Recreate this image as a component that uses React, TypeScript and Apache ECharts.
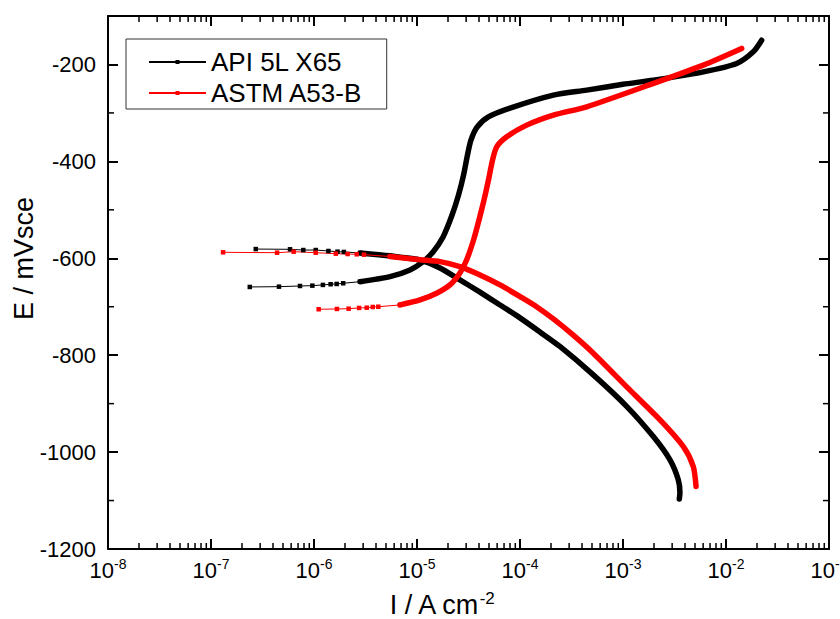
import React, { useEffect, useRef } from 'react';
import * as echarts from 'echarts';

const FONT = '"Liberation Sans", Arial, Helvetica, sans-serif';

// ---- API 5L X65 (black) ----
const apiCathTailI = [2.72e-7, 5.85e-7, 7.87e-7, 1.04e-6, 1.38e-6, 1.69e-6, 1.95e-6];
const apiCathTailE = [-581, -581.5, -583, -583, -585, -586.4, -587];
const apiCathI = [2.8e-6, 5.47e-6, 1.07e-5, 1.67e-5, 2.61e-5, 4.09e-5, 6.4e-5, 1.0e-4, 1.56e-4, 2.44e-4, 5.15e-4, 1.09e-3, 1.97e-3, 2.86e-3, 3.44e-3, 3.57e-3, 3.52e-3];
const apiCathE = [-589, -595, -603.5, -620, -644.5, -670, -696.4, -723, -752, -782, -840.7, -906, -968, -1016, -1057, -1084.6, -1097];
const apiAnodTailI = [2.38e-7, 4.57e-7, 7.31e-7, 9.64e-7, 1.22e-6, 1.45e-6, 1.66e-6, 1.92e-6];
const apiAnodTailE = [-659.2, -658.6, -657.2, -656.5, -655, -653.6, -653, -651.6];
const apiAnodI = [2.8e-6, 5.47e-6, 8.55e-6, 1.14e-5, 1.43e-5, 1.79e-5, 2.19e-5, 2.53e-5, 2.83e-5, 3.09e-5, 3.34e-5, 3.83e-5, 4.89e-5, 8.0e-5, 2.11e-4, 4.44e-4, 1.0e-3, 1.97e-3, 6.03e-3, 1.27e-2, 1.84e-2, 2.22e-2];
const apiAnodE = [-648.3, -638, -624.1, -607.6, -587, -556.1, -510.8, -469.5, -428.3, -387, -356.1, -329.3, -308.7, -290.1, -263.3, -253, -241, -232.4, -215.3, -198, -174, -150];

// ---- ASTM A53-B (red) ----
const astmCathTailI = [1.31e-7, 4.38e-7, 6.35e-7, 1.04e-6, 1.63e-6, 2.12e-6, 2.6e-6, 3.05e-6];
const astmCathTailE = [-587.7, -588.5, -586.4, -588.5, -590.5, -591.2, -591.8, -592.6];
const astmCathI = [5.47e-6, 1.07e-5, 1.67e-5, 2.61e-5, 4.09e-5, 6.4e-5, 1.0e-4, 1.46e-4, 2.11e-4, 3.27e-4, 5.15e-4, 1.08e-3, 2.29e-3, 3.85e-3, 4.81e-3, 5.12e-3];
const astmCathE = [-596.3, -603, -607, -617.3, -634.5, -655, -679, -700.4, -725.2, -758.2, -796, -864.8, -933.5, -988.5, -1029.7, -1071];
const astmAnodTailI = [1.11e-6, 1.67e-6, 2.17e-6, 2.74e-6, 3.25e-6, 3.72e-6, 4.21e-6];
const astmAnodTailE = [-705.2, -704.6, -704, -702.5, -702, -700.5, -700];
const astmAnodI = [6.84e-6, 1.07e-5, 1.55e-5, 2.09e-5, 2.61e-5, 3.03e-5, 3.54e-5, 4.0e-5, 4.47e-5, 4.94e-5, 5.41e-5, 5.94e-5, 7.43e-5, 1.16e-4, 2.11e-4, 4.44e-4, 1.97e-3, 6.03e-3, 1.42e-2];
const astmAnodE = [-696.3, -686, -672.2, -655, -630.3, -603.5, -562.3, -521, -479.8, -438.6, -397.3, -370, -349.3, -325.2, -304.5, -287.4, -239.2, -201.4, -167];

const seriesNames = ['API 5L X65', 'ASTM A53-B'];
const seriesColors = ['#000000', '#ff0000'];

// axis settings
const xMin = 1e-8;
const xMax = 1e-1;
const yMin = -1200;
const yMax = -100;
const yInterval = 200;
const xDecadeExps = [-8, -7, -6, -5, -4, -3, -2];
const xMinorMultipliers = [2, 3, 4, 5, 6, 7, 8, 9];
const yMinorValues = [-1100, -900, -700, -500, -300];

const pairs = (I: number[], E: number[]) => I.map((v, i) => [v, E[i]]);

export default function App() {
  const ref = useRef<HTMLDivElement>(null);
  useEffect(() => {
    if (!ref.current) return;
    const chart = echarts.init(ref.current, null, { renderer: 'svg' });

    const xMinorVals: number[] = [];
    xDecadeExps.forEach((e) => xMinorMultipliers.forEach((m) => xMinorVals.push(m * Math.pow(10, e))));

    const thin = (name: string, color: string, tailI: number[], tailE: number[], denseI: number[], denseE: number[]) => ({
      type: 'line',
      name,
      data: [...pairs(tailI, tailE), [denseI[0], denseE[0]]],
      symbol: 'rect',
      symbolSize: 4.5,
      showSymbol: true,
      lineStyle: { color, width: 1 },
      itemStyle: { color },
      z: 3,
      silent: true,
    });
    const thick = (name: string, color: string, denseI: number[], denseE: number[]) => ({
      type: 'line',
      name: name + ' ',
      data: pairs(denseI, denseE),
      symbol: 'none',
      smooth: 0.25,
      lineStyle: { color, width: 5.5, cap: 'round', join: 'round' },
      z: 2,
      silent: true,
    });

    const tickLine = { color: '#000', width: 2 };

    const option: any = {
      animation: false,
      backgroundColor: '#fff',
      grid: { left: 108, right: 11, top: 16, bottom: 70, containLabel: false, outerBoundsMode: 'none' },
      legend: {
        data: seriesNames.map((n) => ({ name: n })),
        orient: 'vertical',
        left: 126,
        top: 39,
        padding: [10, 24, 3, 22],
        itemWidth: 57,
        itemHeight: 5,
        itemGap: 5,
        borderColor: '#333',
        borderWidth: 1,
        selectedMode: false,
        textStyle: { fontSize: 26, fontFamily: FONT, color: '#000', lineHeight: 26 },
      },
      xAxis: [
        {
          type: 'log',
          logBase: 10,
          min: xMin,
          max: xMax,
          splitNumber: 7,
          position: 'bottom',
          axisLine: { show: true, lineStyle: tickLine },
          axisTick: { show: true, inside: true, length: 10, lineStyle: tickLine },
          splitLine: { show: false },
          axisLabel: {
            margin: 8,
            formatter: (v: number) => `{b|10}{s|${Math.round(Math.log10(v))}}`,
            rich: {
              b: { fontSize: 22, fontFamily: FONT, color: '#000', lineHeight: 26 },
              s: { fontSize: 14, fontFamily: FONT, color: '#000', verticalAlign: 'top', lineHeight: 14 },
            },
          },
          name: '{t|I / A cm}{s|-2}',
          nameLocation: 'middle',
          nameGap: 41,
          nameMoveOverlap: false,
          nameTextStyle: {
            padding: [0, 54, 0, 0],
            rich: {
              t: { fontSize: 27, fontFamily: FONT, color: '#000', lineHeight: 30 },
              s: { fontSize: 17, fontFamily: FONT, color: '#000', verticalAlign: 'top', lineHeight: 17 },
            },
          },
        },
        {
          type: 'log',
          logBase: 10,
          min: xMin,
          max: xMax,
          splitNumber: 7,
          position: 'top',
          axisLine: { show: true, lineStyle: tickLine },
          axisTick: { show: true, inside: true, length: 10, lineStyle: tickLine },
          axisLabel: { show: false },
          splitLine: { show: false },
        },
      ],
      yAxis: [
        {
          type: 'value',
          min: yMin,
          max: yMax,
          interval: yInterval,
          position: 'left',
          axisLine: { show: true, lineStyle: tickLine },
          axisTick: { show: true, inside: true, length: 10, lineStyle: tickLine },
          splitLine: { show: false },
          axisLabel: {
            margin: 12,
            fontSize: 22,
            fontFamily: FONT,
            color: '#000',
            formatter: (v: number) => (v === yMax ? '' : String(v)),
          },
          name: 'E / mVsce',
          nameLocation: 'middle',
          nameGap: 71,
          nameMoveOverlap: false,
          nameRotate: 90,
          nameTextStyle: { fontSize: 27, fontFamily: FONT, color: '#000', padding: [0, 0, 0, 48] },
        },
        {
          type: 'value',
          min: yMin,
          max: yMax,
          interval: yInterval,
          position: 'right',
          axisLine: { show: true, lineStyle: tickLine },
          axisTick: { show: true, inside: true, length: 10, lineStyle: tickLine },
          axisLabel: { show: false },
          splitLine: { show: false },
        },
      ],
      series: [
        thick(seriesNames[0], seriesColors[0], apiCathI, apiCathE),
        thick(seriesNames[0] + '2', seriesColors[0], apiAnodI, apiAnodE),
        thin(seriesNames[0], seriesColors[0], apiCathTailI, apiCathTailE, apiCathI, apiCathE),
        thin(seriesNames[0], seriesColors[0], apiAnodTailI, apiAnodTailE, apiAnodI, apiAnodE),
        thick(seriesNames[1], seriesColors[1], astmCathI, astmCathE),
        thick(seriesNames[1] + '2', seriesColors[1], astmAnodI, astmAnodE),
        thin(seriesNames[1], seriesColors[1], astmCathTailI, astmCathTailE, astmCathI, astmCathE),
        thin(seriesNames[1], seriesColors[1], astmAnodTailI, astmAnodTailE, astmAnodI, astmAnodE),
        {
          type: 'custom',
          name: 'xMinor',
          silent: true,
          clip: false,
          z: 5,
          data: xMinorVals.map((v) => [v, yMin]),
          encode: { x: 0, y: 1 },
          renderItem: (params: any, api: any) => {
            const v = api.value(0);
            const b = api.coord([v, yMin]);
            const t = api.coord([v, yMax]);
            return {
              type: 'group',
              children: [
                { type: 'line', shape: { x1: b[0], y1: b[1], x2: b[0], y2: b[1] - 6 }, style: { stroke: '#000', lineWidth: 1.5 } },
                { type: 'line', shape: { x1: t[0], y1: t[1], x2: t[0], y2: t[1] + 6 }, style: { stroke: '#000', lineWidth: 1.5 } },
              ],
            };
          },
        },
        {
          type: 'custom',
          name: 'yMinor',
          silent: true,
          clip: false,
          z: 5,
          data: yMinorValues.map((v) => [xMin, v]),
          encode: { x: 0, y: 1 },
          renderItem: (params: any, api: any) => {
            const v = api.value(1);
            const l = api.coord([xMin, v]);
            const r = api.coord([xMax, v]);
            return {
              type: 'group',
              children: [
                { type: 'line', shape: { x1: l[0], y1: l[1], x2: l[0] + 6, y2: l[1] }, style: { stroke: '#000', lineWidth: 1.5 } },
                { type: 'line', shape: { x1: r[0], y1: r[1], x2: r[0] - 6, y2: r[1] }, style: { stroke: '#000', lineWidth: 1.5 } },
              ],
            };
          },
        },
      ],
    };

    chart.setOption(option);
    return () => chart.dispose();
  }, []);

  return (
    <div
      ref={ref}
      style={{ position: 'fixed', left: 0, top: 0, width: 840, height: 619, background: '#fff' }}
    />
  );
}
